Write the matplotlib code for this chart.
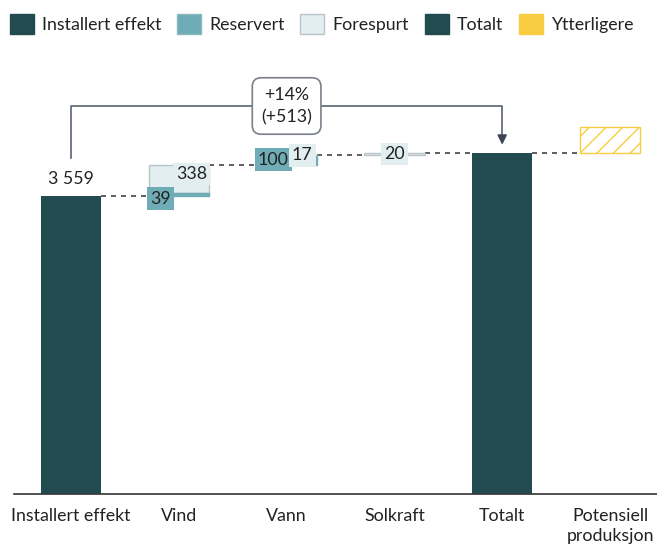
import matplotlib
matplotlib.use("Agg")
import matplotlib.pyplot as plt
from matplotlib.patches import Patch

plt.rcParams['font.family'] = ['Lato', 'DejaVu Sans']
plt.rcParams['hatch.linewidth'] = 1.0

categories = ["Installert effekt", "Vind", "Vann", "Solkraft", "Totalt", "Potensiell\nproduksjon"]
installert = 3559
reservert = {"Vind": 39, "Vann": 100}
forespurt = {"Vind": 338, "Vann": 17, "Solkraft": 20}
totalt = 4073
ytterligere = 310
legend_labels = ["Installert effekt", "Reservert", "Forespurt", "Totalt", "Ytterligere"]
bracket_text = "+14%\n(+513)"

C_DARK = "#224B50"
C_RES = "#6FACB5"
C_FOR = "#E2EEF0"
C_YEL = "#F8CC40"
C_EDGE = "#B8C4C7"
TXT = "#222222"

fig = plt.figure(figsize=(6.57, 5.45), dpi=100)
ax = fig.add_axes([14/657, 51/545, 643/657, 444/545])
ax.set_ylim(0, 5305)
ax.set_xlim(-0.529, 5.436)
W = 0.56

x = list(range(len(categories)))
ax.bar(x[0], installert, width=W, color=C_DARK, zorder=2)
running = installert
tops = [installert]
for i, cat in [(1, "Vind"), (2, "Vann"), (3, "Solkraft")]:
    r = reservert.get(cat, 0)
    f = forespurt.get(cat, 0)
    if r:
        ax.bar(x[i], r, bottom=running, width=W, color=C_RES, edgecolor=C_RES, lw=1, zorder=2)
    rb = running + r
    if f:
        ax.bar(x[i], f, bottom=rb, width=W, color=C_FOR, edgecolor=C_EDGE, lw=1, zorder=1)
    running = rb + f
    tops.append(running)
ax.bar(x[4], totalt, width=W, color=C_DARK, zorder=2)
tops.append(totalt)
ax.bar(x[5], ytterligere, bottom=totalt, width=W, facecolor="white", edgecolor=C_YEL,
       hatch="//", lw=1, zorder=2)

for i in range(5):
    ax.plot([x[i] + W/2, x[i+1] - W/2], [tops[i], tops[i]], ls=(0, (3, 3)),
            color="#444444", lw=1.2, zorder=0)

fs = 12.8
ax.text(x[0], installert + 110, "3 559", ha="center", va="bottom", fontsize=fs, color=TXT)
box = dict(boxstyle="square,pad=0.18", lw=0)
ax.text(x[1] - W/2 + 0.01, installert - 30, str(reservert["Vind"]), ha="left", va="center",
        fontsize=fs, color=TXT, bbox=dict(box, fc=C_RES), zorder=4)
ax.text(x[1] + W/2 - 0.02, installert + reservert["Vind"] + forespurt["Vind"] - 110,
        str(forespurt["Vind"]), ha="right", va="center", fontsize=fs, color=TXT,
        bbox=dict(box, fc=C_FOR), zorder=4)
vb = tops[1]
ax.text(x[2] + 0.02, vb + 60, str(reservert["Vann"]), ha="right", va="center",
        fontsize=fs, color=TXT, bbox=dict(box, fc=C_RES), zorder=4)
ax.text(x[2] + 0.05, vb + 110, str(forespurt["Vann"]), ha="left", va="center",
        fontsize=fs, color=TXT, bbox=dict(box, fc=C_FOR), zorder=4)
ax.text(x[3], tops[3] - 10, str(forespurt["Solkraft"]), ha="center", va="center",
        fontsize=fs, color=TXT, bbox=dict(box, fc=C_FOR), zorder=4)

y_br = 4636
ax.plot([x[0], x[0], x[4], x[4]], [4014, y_br, y_br, 4300], color="#5A6272", lw=1.2, zorder=3)
ax.annotate("", xy=(x[4], 4140), xytext=(x[4], 4320),
            arrowprops=dict(arrowstyle="-|>", color="#3D4455", lw=1.2, mutation_scale=14), zorder=3)
ax.text(x[2], y_br, bracket_text, ha="center", va="center", fontsize=fs, color=TXT,
        linespacing=1.5,
        bbox=dict(boxstyle="round,pad=0.5,rounding_size=0.5", fc="white", ec="#7A808A", lw=1.2),
        zorder=5)

ax.set_xticks(x)
ax.set_xticklabels(categories, fontsize=fs, color=TXT, linespacing=1.35)
ax.tick_params(axis="x", length=0, pad=10)
ax.set_yticks([])
for s in ["left", "right", "top"]:
    ax.spines[s].set_visible(False)
ax.spines["bottom"].set_color("#333333")
ax.spines["bottom"].set_linewidth(1.2)

handles = [Patch(fc=C_DARK, ec=C_DARK), Patch(fc=C_RES, ec="#8ab8bf"),
           Patch(fc=C_FOR, ec="#b8c4c7"), Patch(fc=C_DARK, ec=C_DARK), Patch(fc=C_YEL, ec=C_YEL)]
fig.legend(handles, legend_labels, loc="upper left", bbox_to_anchor=(-0.009, 1.004), ncol=5,
           frameon=False, fontsize=fs, handlelength=1.35, handleheight=1.35,
           handletextpad=0.45, columnspacing=0.88, labelcolor=TXT)

fig.savefig("out.png", dpi=100)
